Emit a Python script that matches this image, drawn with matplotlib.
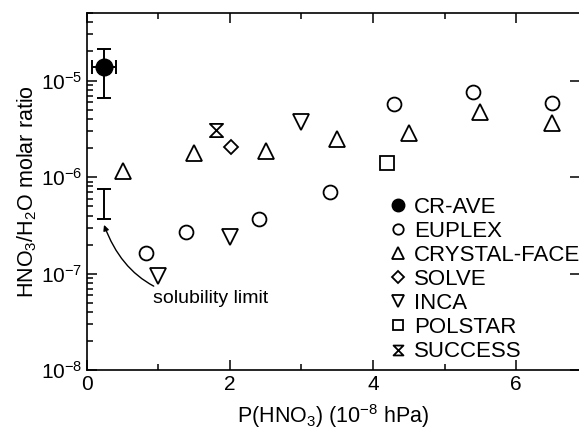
import matplotlib
matplotlib.use("Agg")
import matplotlib.pyplot as plt
from matplotlib.path import Path
import numpy as np

plt.rcParams['font.family'] = ['Liberation Sans', 'DejaVu Sans']
plt.rcParams['mathtext.default'] = 'regular'

# ---- data ----
crave_x = [0.24]
crave_y = [1.38e-5]
crave_xerr = [0.17]
crave_ylo = [6.6e-6]
crave_yhi = [2.1e-5]

sol_x = [0.24]
sol_lo = [3.7e-7]
sol_hi = [7.5e-7]

euplex_x = [0.82, 1.38, 2.40, 3.40, 4.30, 5.40, 6.50]
euplex_y = [1.65e-7, 2.7e-7, 3.7e-7, 7.0e-7, 5.7e-6, 7.6e-6, 5.9e-6]

cf_x = [0.50, 1.50, 2.50, 3.50, 4.50, 5.50, 6.50]
cf_y = [1.16e-6, 1.76e-6, 1.87e-6, 2.48e-6, 2.88e-6, 4.68e-6, 3.6e-6]

solve_x = [2.02]
solve_y = [2.05e-6]

inca_x = [1.00, 2.00, 3.00]
inca_y = [9.5e-8, 2.4e-7, 3.7e-6]

polstar_x = [4.20]
polstar_y = [1.4e-6]

success_x = [1.80]
success_y = [3.1e-6]

xticks = [0, 2, 4, 6]
yticks = [1e-8, 1e-7, 1e-6, 1e-5]
ytick_labels = ['$10^{-8}$', '$10^{-7}$', '$10^{-6}$', '$10^{-5}$']

# hourglass marker
hourglass = Path([(-1, 1), (1, 1), (-1, -1), (1, -1), (-1, 1)],
                 [Path.MOVETO, Path.LINETO, Path.LINETO, Path.LINETO, Path.CLOSEPOLY])

fig = plt.figure(figsize=(5.79, 4.36), dpi=100)
ax = fig.add_axes([0.150, 0.151, 0.852, 0.819])
ax.set_yscale('log')

ms = 10
mew = 1.3
common = dict(linestyle='none', markerfacecolor='white', markeredgecolor='black',
              markeredgewidth=mew, color='black')

# CR-AVE with error bars
yerr = [[crave_y[0] - crave_ylo[0]], [crave_yhi[0] - crave_y[0]]]
ax.errorbar(crave_x, crave_y, xerr=crave_xerr, yerr=yerr, fmt='none',
            ecolor='black', elinewidth=1.4, capsize=5, capthick=1.4, zorder=2)
ax.plot(crave_x, crave_y, 'o', color='black', markersize=12, linestyle='none',
        label='CR-AVE', zorder=3)

ax.plot(euplex_x, euplex_y, marker='o', markersize=ms, label='EUPLEX', **common)
ax.plot(cf_x, cf_y, marker='^', markersize=ms + 1, label='CRYSTAL-FACE', **common)
ax.plot(solve_x, solve_y, marker='D', markersize=ms - 2.5, label='SOLVE', **common)
ax.plot(inca_x, inca_y, marker='v', markersize=ms + 1, label='INCA', **common)
ax.plot(polstar_x, polstar_y, marker='s', markersize=ms - 0.5, label='POLSTAR', **common)
ax.plot(success_x, success_y, marker=hourglass, markersize=ms - 0.5, label='SUCCESS', **common)

# solubility limit bar
sol_c = [np.sqrt(sol_lo[0] * sol_hi[0])]
ax.errorbar(sol_x, sol_c, yerr=[[sol_c[0] - sol_lo[0]], [sol_hi[0] - sol_c[0]]],
            fmt='none', ecolor='black', elinewidth=1.4, capsize=5, capthick=1.4)

ax.annotate('solubility limit', xy=(0.24, 3.2e-7), xytext=(0.92, 5.5e-8),
            fontsize=14, ha='left', va='center',
            arrowprops=dict(arrowstyle='-|>', color='black', lw=1.0,
                            connectionstyle='arc3,rad=-0.35', shrinkA=2, shrinkB=0,
                            mutation_scale=8))

ax.set_xlim(0, 6.895)
ax.set_ylim(1e-8, 5.0e-5)
ax.set_xticks(xticks)
ax.set_xticks([1, 3, 5], minor=True)
ax.set_yticks(yticks)
ax.set_yticklabels(ytick_labels)

ax.tick_params(which='both', direction='in', top=True, right=True, labelsize=15, width=1.1)
ax.tick_params(which='major', length=7)
ax.tick_params(which='minor', length=4)
ax.tick_params(axis='y', which='minor', right=False)
for s in ax.spines.values():
    s.set_linewidth(1.2)

ax.set_xlabel('P(HNO$_3$) (10$^{-8}$ hPa)', fontsize=15.5, labelpad=6)
ax.set_ylabel('HNO$_3$/H$_2$O molar ratio', fontsize=15.5, labelpad=1)

leg = ax.legend(loc='upper left', bbox_to_anchor=(0.613, 0.486), frameon=False,
                fontsize=16, markerscale=0.75, handlelength=0.75, handletextpad=0.35,
                labelspacing=0.14, borderaxespad=0, borderpad=0)

fig.savefig('out.png', dpi=100)
